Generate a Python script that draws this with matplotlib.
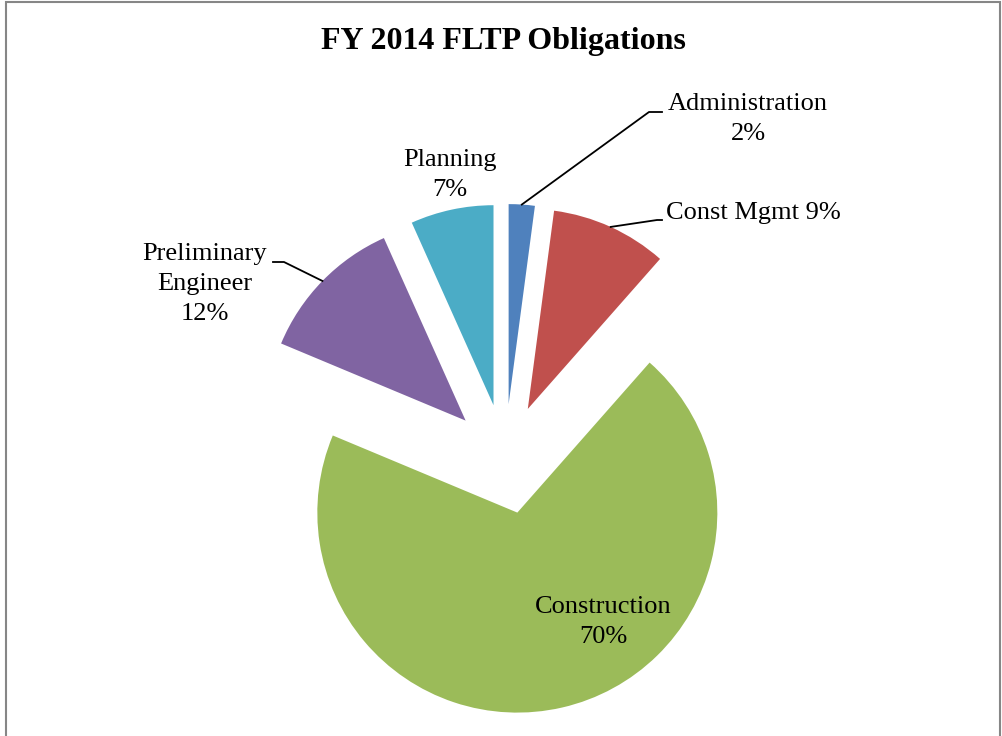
import numpy as np
import matplotlib
matplotlib.use("Agg")
import matplotlib.pyplot as plt
from matplotlib.patches import Rectangle

plt.rcParams["font.family"] = ["Liberation Serif", "DejaVu Serif"]

categories = ["Administration", "Const Mgmt", "Construction", "Preliminary Engineer", "Planning"]
shares = [2.1, 9.4, 69.8, 12.0, 6.7]
colors = ["#4F81BD", "#C0504D", "#9BBB59", "#8064A2", "#4BACC6"]

W, H = 1003, 736
cx, cy, rad = 505, 459, 200  # pie centre / radius in pixels


def px(x, y):
    # pixel position (from top-left) -> data coordinates
    return (x - cx) / rad, (cy - y) / rad


fig = plt.figure(figsize=(W / 100, H / 100), dpi=100)
ax = fig.add_axes([0, 0, 1, 1])

wedges, _ = ax.pie(shares, colors=colors, startangle=90, counterclock=False,
                   explode=[0.275] * len(shares), radius=1,
                   wedgeprops=dict(linewidth=0))
ax.set_xlim(-cx / rad, (W - cx) / rad)
ax.set_ylim(-(H - cy) / rad, cy / rad)
ax.set_aspect("auto")
ax.axis("off")

total = sum(shares)
pct = [f"{round(v / total * 100):.0f}%" for v in shares]


def arc_mid(w):
    a = np.deg2rad((w.theta1 + w.theta2) / 2)
    return w.center[0] + w.r * np.cos(a), w.center[1] + w.r * np.sin(a)


fs = 19
ls = 1.45
# data labels
ax.text(*px(748, 119), f"{categories[0]}\n{pct[0]}", ha="center", va="center", fontsize=fs, linespacing=ls)
ax.text(*px(666, 213), f"{categories[1]} {pct[1]}", ha="left", va="center", fontsize=fs)
ax.text(*px(603, 622), f"{categories[2]}\n{pct[2]}", ha="center", va="center", fontsize=fs, linespacing=ls)
ax.text(*px(205, 284), "Preliminary\nEngineer\n" + pct[3], ha="center", va="center", fontsize=fs, linespacing=ls)
ax.text(*px(450, 175), f"{categories[4]}\n{pct[4]}", ha="center", va="center", fontsize=fs, linespacing=ls)

# leader lines
leaders = {0: [(649, 112), (662, 112)], 1: [(657, 220), (662, 220)], 3: [(284, 262), (273, 262)]}
for i, pts in leaders.items():
    x0, y0 = arc_mid(wedges[i])
    xs = [x0] + [px(*p)[0] for p in pts]
    ys = [y0] + [px(*p)[1] for p in pts]
    ax.plot(xs, ys, color="black", lw=1.3)

fig.text(503 / W, 1 - 42 / H, "FY 2014 FLTP Obligations", ha="center", va="center",
         fontsize=23, fontweight="bold")

# chart border
fig.patches.append(Rectangle((6 / W, -0.05), (1000 - 6) / W, 1.05 - 2 / H,
                             transform=fig.transFigure, fill=False,
                             edgecolor="#868686", lw=1.5))

fig.savefig("out.png", dpi=100)
